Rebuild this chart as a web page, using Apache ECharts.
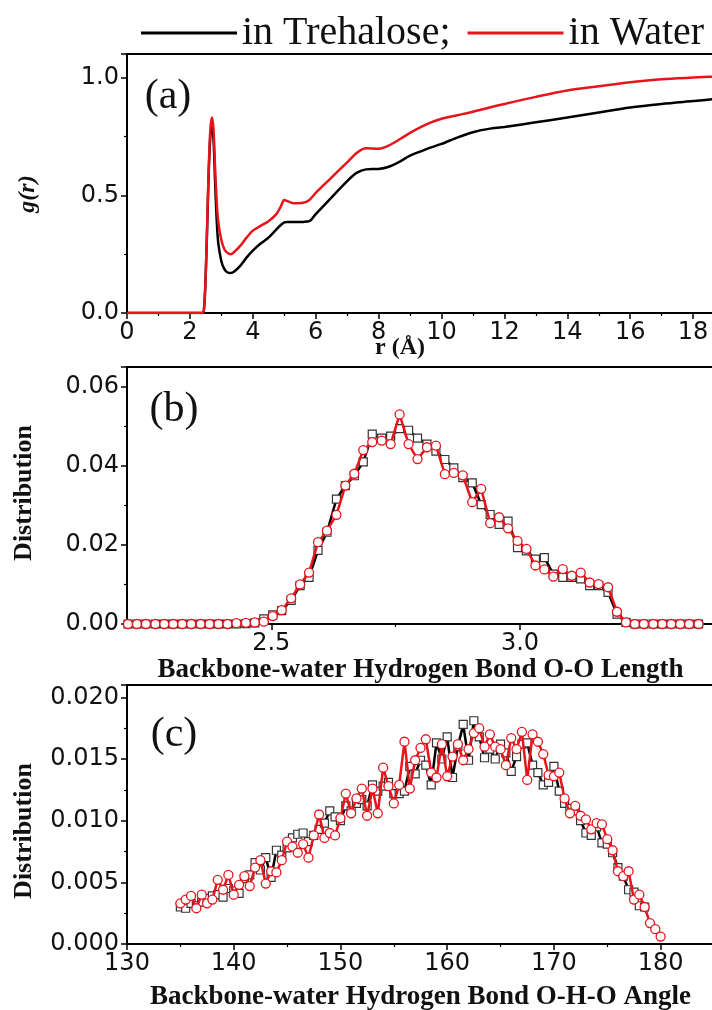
<!DOCTYPE html>
<html>
<head>
<meta charset="utf-8">
<script src="https://cdn.jsdelivr.net/npm/echarts@6/dist/echarts.min.js"></script>
<style>
  html, body { margin: 0; padding: 0; background: #fff; }
  #main { width: 712px; height: 1010px; }
</style>
</head>
<body>
<div id="main"></div>
<script>
// (a) g(r) 径向分布
var rA = [0, 1, 2, 2.4, 2.45, 2.5, 2.55, 2.6, 2.65, 2.7, 2.75, 2.8, 2.85, 2.9, 3.0, 3.1, 3.2, 3.3, 3.4, 3.6,
    3.8, 4.0, 4.25, 4.5, 4.75, 4.9, 5.0, 5.1, 5.3, 5.6, 5.8, 6.0, 6.5, 7.0, 7.3, 7.6, 8.0, 8.3, 8.7, 9.0,
    9.5, 10, 10.5, 11, 11.5, 12, 13, 14, 15, 16, 17, 18, 19, 20];
var gWater = [0, 0, 0, 0, 0.02, 0.15, 0.38, 0.62, 0.78, 0.83, 0.78, 0.62, 0.48, 0.39, 0.31, 0.27, 0.255, 0.25, 0.258, 0.285,
    0.32, 0.35, 0.37, 0.39, 0.42, 0.455, 0.48, 0.475, 0.466, 0.468, 0.48, 0.51, 0.575, 0.64, 0.68, 0.70, 0.698, 0.71, 0.74, 0.765,
    0.80, 0.825, 0.84, 0.855, 0.872, 0.888, 0.918, 0.945, 0.963, 0.98, 0.993, 1.0, 1.006, 1.01];
var gTrehalose = [0, 0, 0, 0, 0.02, 0.15, 0.37, 0.6, 0.75, 0.8, 0.74, 0.56, 0.4, 0.3, 0.22, 0.185, 0.172, 0.17, 0.175, 0.2,
    0.235, 0.265, 0.295, 0.32, 0.355, 0.375, 0.385, 0.387, 0.386, 0.387, 0.39, 0.42, 0.49, 0.56, 0.595, 0.61, 0.612, 0.62, 0.645, 0.668,
    0.695, 0.718, 0.745, 0.768, 0.782, 0.79, 0.81, 0.83, 0.852, 0.873, 0.888, 0.9, 0.912, 0.92];

// (b) O-O 长度分布
var ooLen = [2.212, 2.230, 2.248, 2.267, 2.285, 2.303, 2.321, 2.339, 2.358, 2.376, 2.394, 2.412, 2.430, 2.449, 2.467, 2.485,
    2.503, 2.521, 2.540, 2.558, 2.576, 2.594, 2.612, 2.631, 2.649, 2.667, 2.685, 2.703, 2.722, 2.740, 2.758, 2.776,
    2.794, 2.813, 2.831, 2.849, 2.867, 2.885, 2.904, 2.922, 2.940, 2.958, 2.976, 2.995, 3.013, 3.031, 3.049, 3.067,
    3.086, 3.104, 3.122, 3.140, 3.158, 3.177, 3.195, 3.213, 3.231, 3.249, 3.268, 3.286, 3.304, 3.322, 3.340, 3.359];
var ooWater = [0, 0, 0, 0, 0, 0, 0, 0, 0, 0, 0, 0, 0.0002, 0.0003, 0.0004, 0.0006,
    0.0020, 0.0035, 0.0065, 0.0100, 0.0130, 0.0207, 0.0236, 0.0276, 0.0350, 0.0380, 0.0440, 0.0460, 0.0464, 0.0455, 0.0530, 0.0455,
    0.0417, 0.0447, 0.0451, 0.0379, 0.0382, 0.0376, 0.0308, 0.0342, 0.0255, 0.0270, 0.0242, 0.0210, 0.0190, 0.0148, 0.0138, 0.0120,
    0.0139, 0.0122, 0.0130, 0.0105, 0.0101, 0.0093, 0.0031, 0.0004, 0, 0, 0, 0, 0, 0, 0, 0];
var ooTrehalose = [0, 0, 0, 0, 0, 0, 0, 0, 0, 0, 0, 0, 0, 0.0001, 0.0003, 0.0013,
    0.0023, 0.0034, 0.0060, 0.0097, 0.0118, 0.0186, 0.0232, 0.0316, 0.0350, 0.0375, 0.0410, 0.0480, 0.0470, 0.0475, 0.0494, 0.0490,
    0.0470, 0.0455, 0.0437, 0.0416, 0.0395, 0.0370, 0.0357, 0.0302, 0.0277, 0.0252, 0.0260, 0.0193, 0.0185, 0.0164, 0.0168, 0.0126,
    0.0118, 0.0118, 0.0114, 0.0097, 0.0097, 0.0080, 0.0025, 0.0004, 0, 0, 0, 0, 0, 0, 0, 0];
var ooMajorTicks = [2.5, 3.0];
var ooMinorTicks = [2.25, 2.75, 3.25];

// (c) O-H-O 角度分布
var angle = [135, 135.5, 136, 136.5, 137, 137.5, 138, 138.5, 139, 139.5, 140, 140.5, 141, 141.5, 142, 142.5,
    143, 143.5, 144, 144.5, 145, 145.5, 146, 146.5, 147, 147.5, 148, 148.5, 149, 149.5, 150, 150.5,
    151, 151.5, 152, 152.5, 153, 153.5, 154, 154.5, 155, 155.5, 156, 156.5, 157, 157.5, 158, 158.5,
    159, 159.5, 160, 160.5, 161, 161.5, 162, 162.5, 163, 163.5, 164, 164.5, 165, 165.5, 166, 166.5,
    167, 167.5, 168, 168.5, 169, 169.5, 170, 170.5, 171, 171.5, 172, 172.5, 173, 173.5, 174, 174.5,
    175, 175.5, 176, 176.5, 177, 177.5, 178, 178.5, 179, 179.5, 180];
var angWater = [0.0033, 0.0036, 0.0039, 0.0029, 0.0040, 0.0033, 0.0036, 0.0052, 0.0044, 0.0056, 0.0040, 0.0048, 0.0055, 0.0047, 0.0062, 0.0068,
    0.0049, 0.0059, 0.0058, 0.0068, 0.0083, 0.0079, 0.0074, 0.0081, 0.0070, 0.0088, 0.0105, 0.0086, 0.0090, 0.0088, 0.0102, 0.0122,
    0.0106, 0.0118, 0.0126, 0.0104, 0.0126, 0.0106, 0.0143, 0.0128, 0.0114, 0.0129, 0.0164, 0.0126, 0.0149, 0.0159, 0.0166, 0.0139,
    0.0135, 0.0162, 0.0136, 0.0152, 0.0162, 0.0149, 0.0158, 0.0171, 0.0175, 0.0160, 0.0170, 0.0160, 0.0158, 0.0145, 0.0167, 0.0158,
    0.0172, 0.0133, 0.0170, 0.0164, 0.0154, 0.0137, 0.0136, 0.0139, 0.0118, 0.0106, 0.0112, 0.0104, 0.0101, 0.0093, 0.0098, 0.0097,
    0.0085, 0.0076, 0.0059, 0.0055, 0.0059, 0.0036, 0.0040, 0.0030, 0.0017, 0.0012, 0.0006];
var angTrehalose = [0.0030, 0.0029, 0.0033, 0.0031, 0.0034, 0.0037, 0.0039, 0.0040, 0.0038, 0.0045, 0.0043, 0.0041, 0.0053, 0.0056, 0.0066, 0.0060,
    0.0070, 0.0054, 0.0076, 0.0072, 0.0078, 0.0086, 0.0089, 0.0090, 0.0083, 0.0088, 0.0093, 0.0098, 0.0108, 0.0103, 0.0100, 0.0112,
    0.0108, 0.0114, 0.0117, 0.0112, 0.0129, 0.0124, 0.0128, 0.0131, 0.0122, 0.0122, 0.0124, 0.0144, 0.0138, 0.0149, 0.0145, 0.0129,
    0.0163, 0.0150, 0.0168, 0.0135, 0.0160, 0.0178, 0.0149, 0.0181, 0.0168, 0.0151, 0.0158, 0.0150, 0.0162, 0.0155, 0.0140, 0.0152,
    0.0162, 0.0163, 0.0145, 0.0139, 0.0129, 0.0131, 0.0144, 0.0124, 0.0114, 0.0110, 0.0108, 0.0100, 0.0090, 0.0088, 0.0095, 0.0082,
    0.0081, 0.0074, 0.0062, 0.0055, 0.0044, 0.0042, 0.0031, 0.0030];

var RED = '#e8141c';
var SERIF = '"Liberation Serif", "Times New Roman", serif';
var SANS = '"DejaVu Sans", Arial, sans-serif';

function zip(xs, ys) {//把x和y合成[x, y]点
    return ys.map(function (y, i) { return [xs[i], y]; });
}

function valueAxis(grid, min, max, extra) {//公共坐标轴样式
    var ax = {
        type: 'value', gridIndex: grid, min: min, max: max,
        axisLine: { show: true, onZero: false, lineStyle: { color: '#000', width: 2 } },
        axisTick: { show: true, inside: false, length: 6, lineStyle: { color: '#000', width: 1.5 } },
        minorTick: { show: true, splitNumber: 2, length: 3, lineStyle: { color: '#000', width: 1.2 } },
        axisLabel: { color: '#111', fontFamily: SANS, fontSize: 24, margin: 8, showMaxLabel: false },
        splitLine: { show: false }
    };
    for (var k in extra) {
        if (k === 'axisLabel' || k === 'axisTick') {
            ax[k] = Object.assign({}, ax[k], extra[k]);
        } else {
            ax[k] = extra[k];
        }
    }
    return ax;
}

var titleFont = { fontFamily: SERIF, fontWeight: 'bold', fontSize: 27, color: '#111' };

function label(text, x, y, font, rot) {//面板上的文字
    return {
        type: 'text', x: x, y: y, rotation: rot || 0,
        style: { text: text, font: font, fill: '#111', textAlign: 'center', textVerticalAlign: 'middle', align: 'center', verticalAlign: 'middle' }
    };
}

var myChart = echarts.init(document.getElementById('main'), null, { renderer: 'canvas' });
var option = {
    backgroundColor: '#fff',
    animation: false,
    legend: {
        data: ['in Trehalose;', 'in Water'],
        left: 136, top: 8,
        icon: 'rect', itemWidth: 96, itemHeight: 3, itemGap: 17,
        textStyle: { fontFamily: SERIF, fontSize: 40, color: '#111' }
    },
    grid: [
        { left: 127, top: 54, height: 259, right: -44, show: true, borderColor: '#000', borderWidth: 2, outerBoundsMode: 'none' },
        { left: 127, top: 367, height: 257, right: -2, show: true, borderColor: '#000', borderWidth: 2, outerBoundsMode: 'none' },
        { left: 127, top: 685, height: 259, right: -2, show: true, borderColor: '#000', borderWidth: 2, outerBoundsMode: 'none' }
    ],
    xAxis: [
        valueAxis(0, 0, 20, { interval: 2, position: 'bottom' }),
        valueAxis(1, 2.21, 3.39, {
            position: 'bottom',
            minorTick: { show: false },
            axisTick: { customValues: ooMajorTicks },
            axisLabel: { customValues: ooMajorTicks, showMaxLabel: true, showMinLabel: true, formatter: function (v) { return v.toFixed(1); } },
            name: 'Backbone-water Hydrogen Bond O-O Length',
            nameLocation: 'middle', nameGap: 33, nameTextStyle: titleFont
        }),
        valueAxis(2, 130, 185, {
            interval: 10, position: 'bottom',
            name: 'Backbone-water Hydrogen Bond O-H-O Angle',
            nameLocation: 'middle', nameGap: 40, nameTextStyle: titleFont
        }),
        // (b)的次刻度单独用一根轴画
        valueAxis(1, 2.21, 3.39, {
            position: 'bottom',
            axisLine: { show: false, onZero: false },
            minorTick: { show: false },
            axisLabel: { show: false },
            axisTick: { customValues: ooMinorTicks, length: 3, lineStyle: { color: '#000', width: 1.2 } }
        })
    ],
    yAxis: [
        valueAxis(0, 0, 1.1, { interval: 0.5, axisLabel: { formatter: function (v) { return v.toFixed(1); } } }),
        valueAxis(1, 0, 0.065, { interval: 0.02, axisLabel: { formatter: function (v) { return v.toFixed(2); } } }),
        valueAxis(2, 0, 0.021, { interval: 0.005, axisLabel: { formatter: function (v) { return v.toFixed(3); } } })
    ],
    graphic: [
        label('(a)', 168, 97, '42px ' + SERIF),
        label('(b)', 174, 410, '42px ' + SERIF),
        label('(c)', 174, 735, '42px ' + SERIF),
        label('g(r)', 28, 194, 'italic bold 24px ' + SERIF, Math.PI / 2),
        label('Distribution', 24, 493, 'bold 26px ' + SERIF, Math.PI / 2),
        label('Distribution', 24, 831, 'bold 26px ' + SERIF, Math.PI / 2),
        label('r (Å)', 400, 348, 'bold 24px ' + SERIF)
    ],
    series: [
        {
            name: 'in Trehalose;', type: 'line', xAxisIndex: 0, yAxisIndex: 0, z: 2,
            data: zip(rA, gTrehalose), showSymbol: false, symbol: 'none', smooth: 0.3,
            color: '#000', lineStyle: { color: '#000', width: 2.5 }
        },
        {
            name: 'in Water', type: 'line', xAxisIndex: 0, yAxisIndex: 0, z: 3,
            data: zip(rA, gWater), showSymbol: false, symbol: 'none', smooth: 0.3,
            color: RED, lineStyle: { color: RED, width: 2.5 }
        },
        {
            name: 'O-O length, trehalose', type: 'line', xAxisIndex: 1, yAxisIndex: 1, z: 2,
            data: zip(ooLen, ooTrehalose), symbol: 'rect', symbolSize: 8,
            itemStyle: { color: '#fff', borderColor: '#333', borderWidth: 1.2 },
            lineStyle: { color: '#000', width: 2.5 }
        },
        {
            name: 'O-O length, water', type: 'line', xAxisIndex: 1, yAxisIndex: 1, z: 3,
            data: zip(ooLen, ooWater), symbol: 'circle', symbolSize: 9,
            itemStyle: { color: '#fff', borderColor: RED, borderWidth: 1.3 },
            lineStyle: { color: RED, width: 2.5 }
        },
        {
            name: 'O-H-O angle, trehalose', type: 'line', xAxisIndex: 2, yAxisIndex: 2, z: 2,
            data: zip(angle, angTrehalose), symbol: 'rect', symbolSize: 8,
            itemStyle: { color: '#fff', borderColor: '#333', borderWidth: 1.2 },
            lineStyle: { color: '#000', width: 2.5 }
        },
        {
            name: 'O-H-O angle, water', type: 'line', xAxisIndex: 2, yAxisIndex: 2, z: 3,
            data: zip(angle, angWater), symbol: 'circle', symbolSize: 9,
            itemStyle: { color: '#fff', borderColor: RED, borderWidth: 1.3 },
            lineStyle: { color: RED, width: 2.5 }
        }
    ]
};
myChart.setOption(option);
</script>
</body>
</html>
